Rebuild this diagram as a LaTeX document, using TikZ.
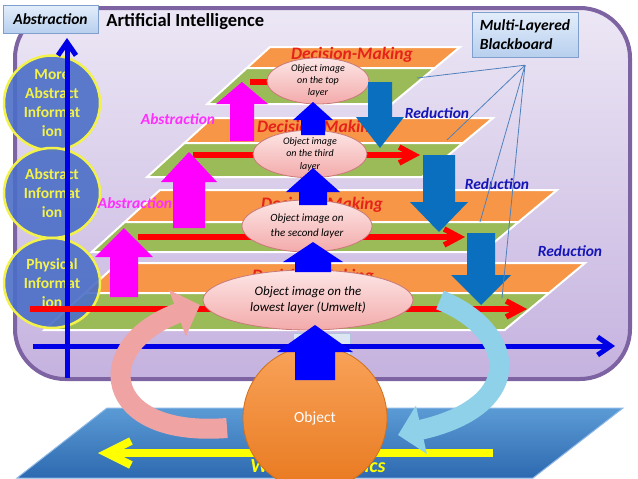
\documentclass[tikz,border=0pt]{standalone}
\usepackage{fontspec}
\setmainfont{Carlito}
\usepackage{tikz}
\usetikzlibrary{positioning, shapes.geometric, arrows.meta}
\usepackage{xcolor}

\definecolor{frameline}{HTML}{7E63A3}
\definecolor{frametop}{HTML}{ECE7F5}
\definecolor{framebot}{HTML}{C5B2DF}
\definecolor{tagline}{HTML}{7F9FCC}
\definecolor{tagtop}{HTML}{E4EEFB}
\definecolor{tagbot}{HTML}{B7CFEE}
\definecolor{infoblue}{HTML}{4C6FC7}
\definecolor{infoyellow}{HTML}{F2F24A}
\definecolor{layerorange}{HTML}{F79646}
\definecolor{layergreen}{HTML}{9BBB59}
\definecolor{decred}{HTML}{E5231B}
\definecolor{absmag}{HTML}{FF2EFF}
\definecolor{upmag}{HTML}{FF00FF}
\definecolor{reduceblue}{HTML}{1515B8}
\definecolor{axisblue}{HTML}{0000E6}
\definecolor{upblue}{HTML}{0000FF}
\definecolor{downblue}{HTML}{0A6FBE}
\definecolor{imgline}{HTML}{C97A7A}
\definecolor{imgtop}{HTML}{FDE6E6}
\definecolor{imgbot}{HTML}{F3AAAA}
\definecolor{objtop}{HTML}{F9A35A}
\definecolor{objbot}{HTML}{E8791F}
\definecolor{objline}{HTML}{D0701A}
\definecolor{platformtop}{HTML}{5B9BD5}
\definecolor{platformbot}{HTML}{2D69B0}
\definecolor{platformline}{HTML}{8DB8E8}
\definecolor{worldyellow}{HTML}{FFFF00}
\definecolor{ribbonpink}{HTML}{EFA3A3}
\definecolor{ribbonblue}{HTML}{8ED1E8}
\definecolor{bbblue}{HTML}{4F81BD}
\definecolor{palebox}{HTML}{DCE6F2}
\definecolor{paleline}{HTML}{B0C4DE}

\begin{document}
\begin{tikzpicture}[
      x=1pt, y=-1pt,
      every node/.style={inner sep=0pt},
      tagbox/.style={draw=tagline, top color=tagtop, bottom color=tagbot, align=left,
        inner sep=4pt, font=\fontsize{15.5}{18.5}\selectfont\bfseries\itshape},
      infocirc/.style={ellipse, draw=infoyellow, line width=2.5pt, fill=infoblue,
        fill opacity=0.9, text opacity=1, text=infoyellow, minimum width=96pt,
        minimum height=90pt, align=center, font=\fontsize{15.5}{19}\selectfont\bfseries},
      objimg/.style={ellipse, draw=imgline, line width=0.8pt, top color=imgtop,
        bottom color=imgbot, align=center},
      layerbox/.style={draw=white, line width=2pt},
      dmlabel/.style={text=decred, font=\fontsize{17.5}{20}\selectfont\bfseries\itshape},
      abslabel/.style={text=absmag, font=\fontsize{15.5}{18}\selectfont\bfseries\itshape},
      redlabel/.style={text=reduceblue, font=\fontsize{15.5}{18}\selectfont\bfseries\itshape},
      axisarrow/.style={draw=axisblue, line width=5pt, -{Straight Barb[length=13pt, width=18pt]}},
      flowred/.style={draw=red, line width=5.5pt, -{Straight Barb[length=15pt, width=16pt]}},
      yellowflow/.style={draw=worldyellow, line width=8pt, -{Straight Barb[length=24pt, width=24pt]}},
      bbline/.style={draw=bbblue, line width=0.8pt},
      ribbon/.style={line width=20pt, -{Triangle[length=24pt, width=48pt]}}
  ]
    \useasboundingbox (0,0) rectangle (638,479);

    % --- Frame of the AI part ---
    \draw[draw=frameline, line width=4pt, rounded corners=50pt,
      top color=frametop, bottom color=framebot] (15,8) rectangle (630,379);

    % --- World dynamics platform ---
    \draw[draw=platformline, line width=1pt, top color=platformtop, bottom color=platformbot]
      (107,408) -- (623,408) -- (533,478) -- (17,478) -- cycle;
    \coordinate (ys) at (493,453);
    \coordinate (ye) at (98,453);
    \draw[yellowflow] (ys) -- (ye);
    \node[text=worldyellow, font=\fontsize{20}{24}\selectfont\bfseries\itshape] (world)
      at (318,467) {World Dynamics};

    % --- Layers of the blackboard (lowest first) ---
    \foreach \t/\m/\b/\xl/\xr in {263/293/330/118/585, 190/222/252/160/557,
                                   118/143/177/212/493, 47/68/104/270/460} {
      \draw[layerbox, fill=layerorange] (\xl,\t) -- (\xr,\t)
        -- ({\xr-1.2*(\m-\t)},\m) -- ({\xl-1.1*(\m-\t)},\m) -- cycle;
      \draw[layerbox, fill=layergreen] ({\xl-1.1*(\m-\t)},\m) -- ({\xr-1.2*(\m-\t)},\m)
        -- ({\xr-1.2*(\b-\t)},\b) -- ({\xl-1.1*(\b-\t)},\b) -- cycle;
    }
    \foreach \x/\y [count=\i] in {313/277, 322/205, 318/128, 352/55}
      \node[dmlabel] (dm\i) at (\x,\y) {Decision-Making};

    % --- Information levels ---
    \node[infocirc] (more)     at (52,103) {More\\Abstract\\Informat\\ion};
    \node[infocirc] (abstract) at (52,193) {Abstract\\Informat\\ion};
    \node[infocirc] (physical) at (52,283) {Physical\\Informat\\ion};

    % --- Axes ---
    \draw[draw=paleline, fill=palebox] (293,333) rectangle (350,357);
    \coordinate (ax0) at (33,346);
    \coordinate (ax1) at (615,346);
    \coordinate (ay0) at (67,378);
    \coordinate (ay1) at (67,38);
    \draw[axisarrow] (ax0) -- (ax1);
    \draw[axisarrow] (ay0) -- (ay1);

    % --- Flow inside each layer ---
    \foreach \xs/\xe/\y [count=\i] in {30/527/309, 138/465/237, 193/420/155, 250/330/82} {
      \coordinate (rs\i) at (\xs,\y);
      \coordinate (re\i) at (\xe,\y);
      \draw[flowred] (rs\i) -- (re\i);
    }

    % --- Abstraction (magenta block arrows) ---
    \foreach \x/\tl/\hb/\tp/\s/\h in {124/297/257/228/14/29, 189/228/182/152/16/28,
                                      242/141/104/82/12/26}
      \fill[upmag] ({\x-\s},\tl) -- ({\x-\s},\hb) -- ({\x-\h},\hb) -- (\x,\tp)
        -- ({\x+\h},\hb) -- ({\x+\s},\hb) -- ({\x+\s},\tl) -- cycle;
    \node[abslabel] (abs1) at (135,203) {Abstraction};
    \node[abslabel] (abs2) at (178,119) {Abstraction};

    % --- Object images on the layers ---
    \node[objimg, minimum width=210pt, minimum height=60pt,
      font=\fontsize{13}{16}\selectfont\itshape] (img1) at (308,300)
      {Object image on the\\lowest layer (Umwelt)};
    \node[objimg, minimum width=130pt, minimum height=52pt,
      font=\fontsize{11}{14.5}\selectfont\itshape] (img2) at (307,226)
      {Object image on\\the second layer};
    \node[objimg, minimum width=114pt, minimum height=42pt,
      font=\fontsize{10}{12.5}\selectfont\itshape] (img3) at (310,154)
      {Object image\\on the third\\layer};
    \node[objimg, minimum width=102pt, minimum height=38pt,
      font=\fontsize{10}{12}\selectfont\itshape] (img4) at (318,81)
      {Object image\\on the top\\layer};

    % --- Up (blue) and reduction (down) block arrows ---
    \foreach \x/\tl/\hb/\tp/\s/\h in {313/272/262/242/18/30, 313/205/192/168/14/27,
                                      313/135/120/102/12/20}
      \fill[upblue] ({\x-\s},\tl) -- ({\x-\s},\hb) -- ({\x-\h},\hb) -- (\x,\tp)
        -- ({\x+\h},\hb) -- ({\x+\s},\hb) -- ({\x+\s},\tl) -- cycle;
    \foreach \x/\tl/\hb/\tp/\s/\h in {380/82/117/148/12/24, 439/155/202/232/16/29,
                                      481/233/275/305/14/30}
      \fill[downblue] ({\x-\s},\tl) -- ({\x-\s},\hb) -- ({\x-\h},\hb) -- (\x,\tp)
        -- ({\x+\h},\hb) -- ({\x+\s},\hb) -- ({\x+\s},\tl) -- cycle;
    \node[redlabel] (red1) at (570,251) {Reduction};
    \node[redlabel] (red2) at (497,184) {Reduction};
    \node[redlabel] (red3) at (437,113) {Reduction};

    % --- Multi-layered blackboard ---
    \node[tagbox, minimum width=106pt, minimum height=45pt] (mlb) at (525,34.5)
      {Multi-Layered\\Blackboard};
    \coordinate[below=8pt of mlb] (hub);
    \foreach \x/\y [count=\i] in {417/78, 447/140, 480/222, 502/298} {
      \coordinate (bb\i) at (\x,\y);
      \draw[bbline] (hub) -- (bb\i);
    }

    % --- Object ---
    \node[circle, draw=objline, line width=0.8pt, top color=objtop, bottom color=objbot,
      minimum size=144pt, text=white, font=\fontsize{15.5}{18}\selectfont] (object)
      at (315,418) {Object};
    \fill[upblue] (295,380) -- (295,352) -- (277,352) -- (315,325) -- (353,352)
      -- (335,352) -- (335,380) -- cycle;

    % --- Perception / action ribbons ---
    \coordinate (pk1) at (227,428);
    \coordinate (pk2) at (200,305);
    \draw[ribbon, draw=ribbonpink] (pk1) .. controls (100,438) and (90,345) .. (pk2);
    \coordinate (lb1) at (440,300);
    \coordinate (lb2) at (398,435);
    \draw[ribbon, draw=ribbonblue] (lb1) .. controls (515,330) and (530,405) .. (lb2);

    % --- Titles ---
    \node[tagbox, minimum width=95pt, minimum height=28pt] (absbox) at (50.5,19) {Abstraction};
    \node[font=\fontsize{18.5}{22}\selectfont\bfseries, right=8pt of absbox, yshift=-3pt] (ai)
      {Artificial Intelligence};

\end{tikzpicture}
\end{document}
